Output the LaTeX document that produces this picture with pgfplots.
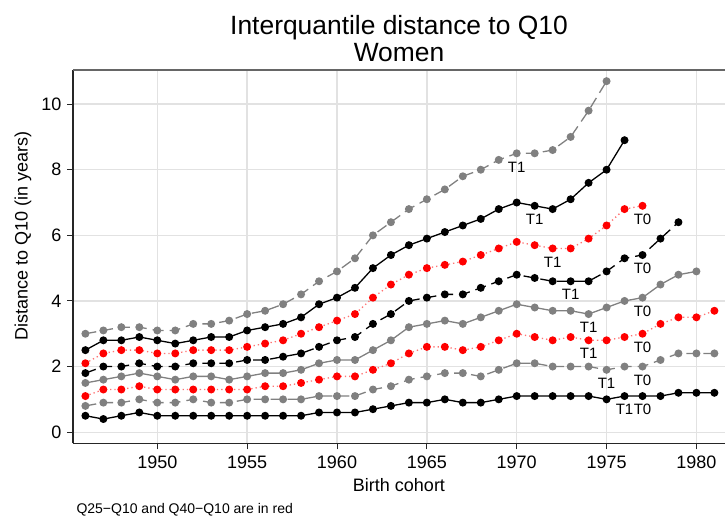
\documentclass[border=0pt]{standalone}
\usepackage{pgfplots}
\pgfplotsset{compat=1.18}
\usepackage{fontspec}
\setmainfont{Liberation Sans}
\definecolor{sgrey}{HTML}{808080}
\definecolor{sred}{HTML}{FF0000}
\definecolor{gridc}{HTML}{E2E2E2}
\begin{document}
\begin{tikzpicture}[x=1pt,y=1pt]
\path[use as bounding box] (0,0) rectangle (725,520);
\begin{axis}[
  at={(73pt,76.7pt)}, anchor=south west,
  scale only axis, width=652pt, height=373.3pt,
  xmin=1945.31, xmax=1981.59, ymin=-0.34, ymax=11.04,
  axis lines=left,
  axis line style={-, line width=1.3pt, draw=black!85},
  xtick={1950,1955,...,1980}, ytick={0,2,...,10},
  tick align=outside, major tick length=6pt,
  tick style={line width=1pt, draw=black!85},
  grid=major, major grid style={draw=gridc, line width=1.3pt},
  tick label style={font=\fontsize{18}{20}\selectfont},
  xticklabel style={yshift=-3pt},
  yticklabel style={xshift=-2pt},
  /pgf/number format/assume math mode=true,
  /pgf/number format/set thousands separator={},
  clip=false,
  every axis plot/.append style={line width=1.3pt},
]
\draw[black!60, line width=1.3pt] (rel axis cs:0,1) -- (rel axis cs:1,1);

% A: black solid
\addplot[black, mark=*, mark size=3.3pt] coordinates {
(1946,0.5)(1947,0.4)(1948,0.5)(1949,0.6)(1950,0.5)(1951,0.5)(1952,0.5)(1953,0.5)(1954,0.5)(1955,0.5)
(1956,0.5)(1957,0.5)(1958,0.5)(1959,0.6)(1960,0.6)(1961,0.6)(1962,0.7)(1963,0.8)(1964,0.9)(1965,0.9)
(1966,1.0)(1967,0.9)(1968,0.9)(1969,1.0)(1970,1.1)(1971,1.1)(1972,1.1)(1973,1.1)(1974,1.1)(1975,1.0)
(1976,1.1)(1977,1.1)(1978,1.1)(1979,1.2)(1980,1.2)(1981,1.2)};
% B: grey dashed
\addplot[sgrey, dash pattern=on 11pt off 6pt, mark=*, mark size=3.3pt, mark options={solid, fill=sgrey}] coordinates {
(1946,0.8)(1947,0.9)(1948,0.9)(1949,1.0)(1950,0.9)(1951,0.9)(1952,1.0)(1953,0.9)(1954,0.9)(1955,1.0)
(1956,1.0)(1957,1.0)(1958,1.0)(1959,1.1)(1960,1.1)(1961,1.1)(1962,1.3)(1963,1.4)(1964,1.6)(1965,1.7)
(1966,1.8)(1967,1.8)(1968,1.7)(1969,1.9)(1970,2.1)(1971,2.1)(1972,2.0)(1973,2.0)(1974,2.0)(1975,1.9)
(1976,2.0)(1977,2.0)(1978,2.2)(1979,2.4)(1980,2.4)(1981,2.4)};
% C: red dotted
\addplot[sred!55, dash pattern=on 1.3pt off 3pt, mark=*, mark size=3.3pt, mark options={solid, draw=sred, fill=sred}] coordinates {
(1946,1.1)(1947,1.3)(1948,1.3)(1949,1.4)(1950,1.3)(1951,1.3)(1952,1.3)(1953,1.3)(1954,1.3)(1955,1.3)
(1956,1.4)(1957,1.4)(1958,1.5)(1959,1.6)(1960,1.7)(1961,1.7)(1962,1.9)(1963,2.1)(1964,2.4)(1965,2.6)
(1966,2.6)(1967,2.5)(1968,2.6)(1969,2.8)(1970,3.0)(1971,2.9)(1972,2.8)(1973,2.9)(1974,2.8)(1975,2.8)
(1976,2.9)(1977,3.0)(1978,3.3)(1979,3.5)(1980,3.5)(1981,3.7)};
% D: grey solid
\addplot[sgrey, mark=*, mark size=3.3pt, mark options={fill=sgrey}] coordinates {
(1946,1.5)(1947,1.6)(1948,1.7)(1949,1.8)(1950,1.7)(1951,1.6)(1952,1.7)(1953,1.7)(1954,1.6)(1955,1.7)
(1956,1.8)(1957,1.8)(1958,1.9)(1959,2.1)(1960,2.2)(1961,2.2)(1962,2.5)(1963,2.8)(1964,3.2)(1965,3.3)
(1966,3.4)(1967,3.3)(1968,3.5)(1969,3.7)(1970,3.9)(1971,3.8)(1972,3.7)(1973,3.7)(1974,3.6)(1975,3.8)
(1976,4.0)(1977,4.1)(1978,4.5)(1979,4.8)(1980,4.9)};
% E: black dashed
\addplot[black, dash pattern=on 11pt off 6pt, mark=*, mark size=3.3pt, mark options={solid}] coordinates {
(1946,1.8)(1947,2.0)(1948,2.0)(1949,2.1)(1950,2.0)(1951,2.0)(1952,2.1)(1953,2.1)(1954,2.1)(1955,2.2)
(1956,2.2)(1957,2.3)(1958,2.4)(1959,2.6)(1960,2.8)(1961,2.9)(1962,3.3)(1963,3.6)(1964,4.0)(1965,4.1)
(1966,4.2)(1967,4.2)(1968,4.4)(1969,4.6)(1970,4.8)(1971,4.7)(1972,4.6)(1973,4.6)(1974,4.6)(1975,4.9)
(1976,5.3)(1977,5.4)(1978,5.9)(1979,6.4)};
% F: red dotted
\addplot[sred!55, dash pattern=on 1.3pt off 3pt, mark=*, mark size=3.3pt, mark options={solid, draw=sred, fill=sred}] coordinates {
(1946,2.1)(1947,2.4)(1948,2.5)(1949,2.5)(1950,2.4)(1951,2.4)(1952,2.5)(1953,2.5)(1954,2.5)(1955,2.6)
(1956,2.7)(1957,2.8)(1958,3.0)(1959,3.2)(1960,3.4)(1961,3.6)(1962,4.1)(1963,4.5)(1964,4.8)(1965,5.0)
(1966,5.1)(1967,5.2)(1968,5.4)(1969,5.6)(1970,5.8)(1971,5.7)(1972,5.6)(1973,5.6)(1974,5.9)(1975,6.3)
(1976,6.8)(1977,6.9)};
% G: black solid
\addplot[black, mark=*, mark size=3.3pt] coordinates {
(1946,2.5)(1947,2.8)(1948,2.8)(1949,2.9)(1950,2.8)(1951,2.7)(1952,2.8)(1953,2.9)(1954,2.9)(1955,3.1)
(1956,3.2)(1957,3.3)(1958,3.5)(1959,3.9)(1960,4.1)(1961,4.4)(1962,5.0)(1963,5.4)(1964,5.7)(1965,5.9)
(1966,6.1)(1967,6.3)(1968,6.5)(1969,6.8)(1970,7.0)(1971,6.9)(1972,6.8)(1973,7.1)(1974,7.6)(1975,8.0)
(1976,8.9)};
% H: grey dashed
\addplot[sgrey, dash pattern=on 11pt off 6pt, mark=*, mark size=3.3pt, mark options={solid, fill=sgrey}] coordinates {
(1946,3.0)(1947,3.1)(1948,3.2)(1949,3.2)(1950,3.1)(1951,3.1)(1952,3.3)(1953,3.3)(1954,3.4)(1955,3.6)
(1956,3.7)(1957,3.9)(1958,4.2)(1959,4.6)(1960,4.9)(1961,5.3)(1962,6.0)(1963,6.4)(1964,6.8)(1965,7.1)
(1966,7.4)(1967,7.8)(1968,8.0)(1969,8.3)(1970,8.5)(1971,8.5)(1972,8.6)(1973,9.0)(1974,9.8)(1975,10.7)};

\begin{scope}[every node/.style={font=\fontsize{15}{17}\selectfont, inner sep=0pt}]
\node at (axis cs:1970,8.08) {T1};
\node at (axis cs:1971,6.48) {T1};
\node at (axis cs:1977,6.48) {T0};
\node at (axis cs:1972,5.18) {T1};
\node at (axis cs:1977,4.98) {T0};
\node at (axis cs:1973,4.2) {T1};
\node at (axis cs:1977,3.68) {T0};
\node at (axis cs:1974,3.18) {T1};
\node at (axis cs:1977,2.58) {T0};
\node at (axis cs:1974,2.4) {T1};
\node at (axis cs:1975,1.48) {T1};
\node at (axis cs:1977,1.58) {T0};
\node at (axis cs:1976,0.7) {T1};
\node at (axis cs:1977,0.7) {T0};
\end{scope}
\end{axis}
\node[anchor=base, inner sep=0pt, font=\fontsize{26.4}{28}\selectfont] at (399,485.7) {Interquantile distance to Q10};
\node[anchor=base, inner sep=0pt, font=\fontsize{26.4}{28}\selectfont] at (399,458.2) {Women};
\node[anchor=base, inner sep=0pt, font=\fontsize{18}{20}\selectfont] at (399,29) {Birth cohort};
\node[rotate=90, inner sep=0pt, font=\fontsize{18}{20}\selectfont] at (23,284) {Distance to Q10 (in years)};
\node[anchor=base west, inner sep=0pt, font=\fontsize{14}{16}\selectfont] at (76.3,6.7) {Q25−Q10 and Q40−Q10 are in red};
\end{tikzpicture}
\end{document}
